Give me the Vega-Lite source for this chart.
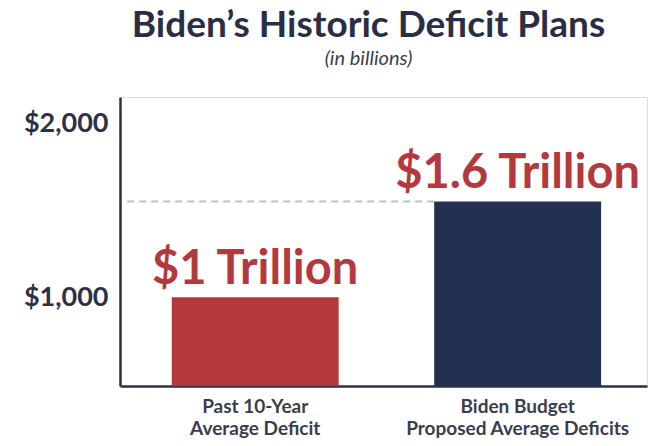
{
  "$schema": "https://vega.github.io/schema/vega-lite/v6.json",
  "autosize": "none",
  "width": 527,
  "height": 289,
  "padding": {"left": 120, "top": 97, "right": 8, "bottom": 60},
  "background": "white",
  "title": {
    "text": "Biden’s Historic Deficit Plans",
    "subtitle": "(in billions)",
    "anchor": "middle",
    "frame": "group",
    "dx": -15,
    "offset": 27,
    "font": "Lato",
    "fontSize": 37,
    "fontWeight": "bold",
    "color": "#2a2e45",
    "subtitleFont": "Lato",
    "subtitleFontSize": 20,
    "subtitleFontStyle": "italic",
    "subtitleColor": "#3a3d4d",
    "subtitlePadding": 4
  },
  "data": {
    "values": [
      {"category": "Past 10-Year|Average Deficit", "value": 1000, "label": "$1 Trillion", "group": "past"},
      {"category": "Biden Budget|Proposed Average Deficits", "value": 1550, "label": "$1.6 Trillion", "group": "biden"}
    ]
  },
  "encoding": {
    "x": {
      "field": "category",
      "type": "nominal",
      "sort": ["Past 10-Year|Average Deficit", "Biden Budget|Proposed Average Deficits"],
      "scale": {"paddingInner": 0.364, "paddingOuter": 0.186, "align": 0.53},
      "axis": {
        "title": null,
        "labelAngle": 0,
        "labelExpr": "split(datum.label, '|')",
        "labelFont": "Lato",
        "labelFontSize": 19,
        "labelFontWeight": "bold",
        "labelColor": "#3a3d4d",
        "labelLineHeight": 22,
        "labelPadding": 11,
        "labelLimit": 0,
        "ticks": false,
        "domainColor": "#2d3146",
        "domainWidth": 2.5
      }
    }
  },
  "layer": [
    {
      "transform": [{"filter": "datum.group == 'biden'"}],
      "mark": {"type": "rule", "color": "#bdbdbd", "strokeWidth": 2, "strokeDash": [7, 5]},
      "encoding": {
        "x": {"field": "category", "type": "nominal", "sort": ["Past 10-Year|Average Deficit", "Biden Budget|Proposed Average Deficits"], "bandPosition": 0},
        "x2": {"value": 4},
        "y": {"field": "value", "type": "quantitative"}
      }
    },
    {
      "mark": {"type": "bar"},
      "encoding": {
        "y": {
          "field": "value",
          "type": "quantitative",
          "scale": {"domain": [490, 2150], "nice": false, "zero": false},
          "axis": {
            "title": null,
            "values": [1000, 2000],
            "format": "$,.0f",
            "grid": false,
            "ticks": false,
            "labelFont": "Lato",
            "labelFontSize": 27,
            "labelFontWeight": "bold",
            "labelColor": "#2d3146",
            "labelPadding": 12,
            "domainColor": "#2d3146",
            "domainWidth": 2.5
          }
        },
        "y2": {"datum": 490},
        "color": {
          "field": "group",
          "type": "nominal",
          "scale": {"domain": ["past", "biden"], "range": ["#b3393e", "#23304f"]},
          "legend": null
        }
      }
    },
    {
      "mark": {"type": "text", "font": "Lato", "fontSize": 47, "fontWeight": "bold", "color": "#b3393e", "baseline": "alphabetic", "dy": -13},
      "encoding": {
        "y": {"field": "value", "type": "quantitative"},
        "text": {"field": "label"}
      }
    }
  ]
}
